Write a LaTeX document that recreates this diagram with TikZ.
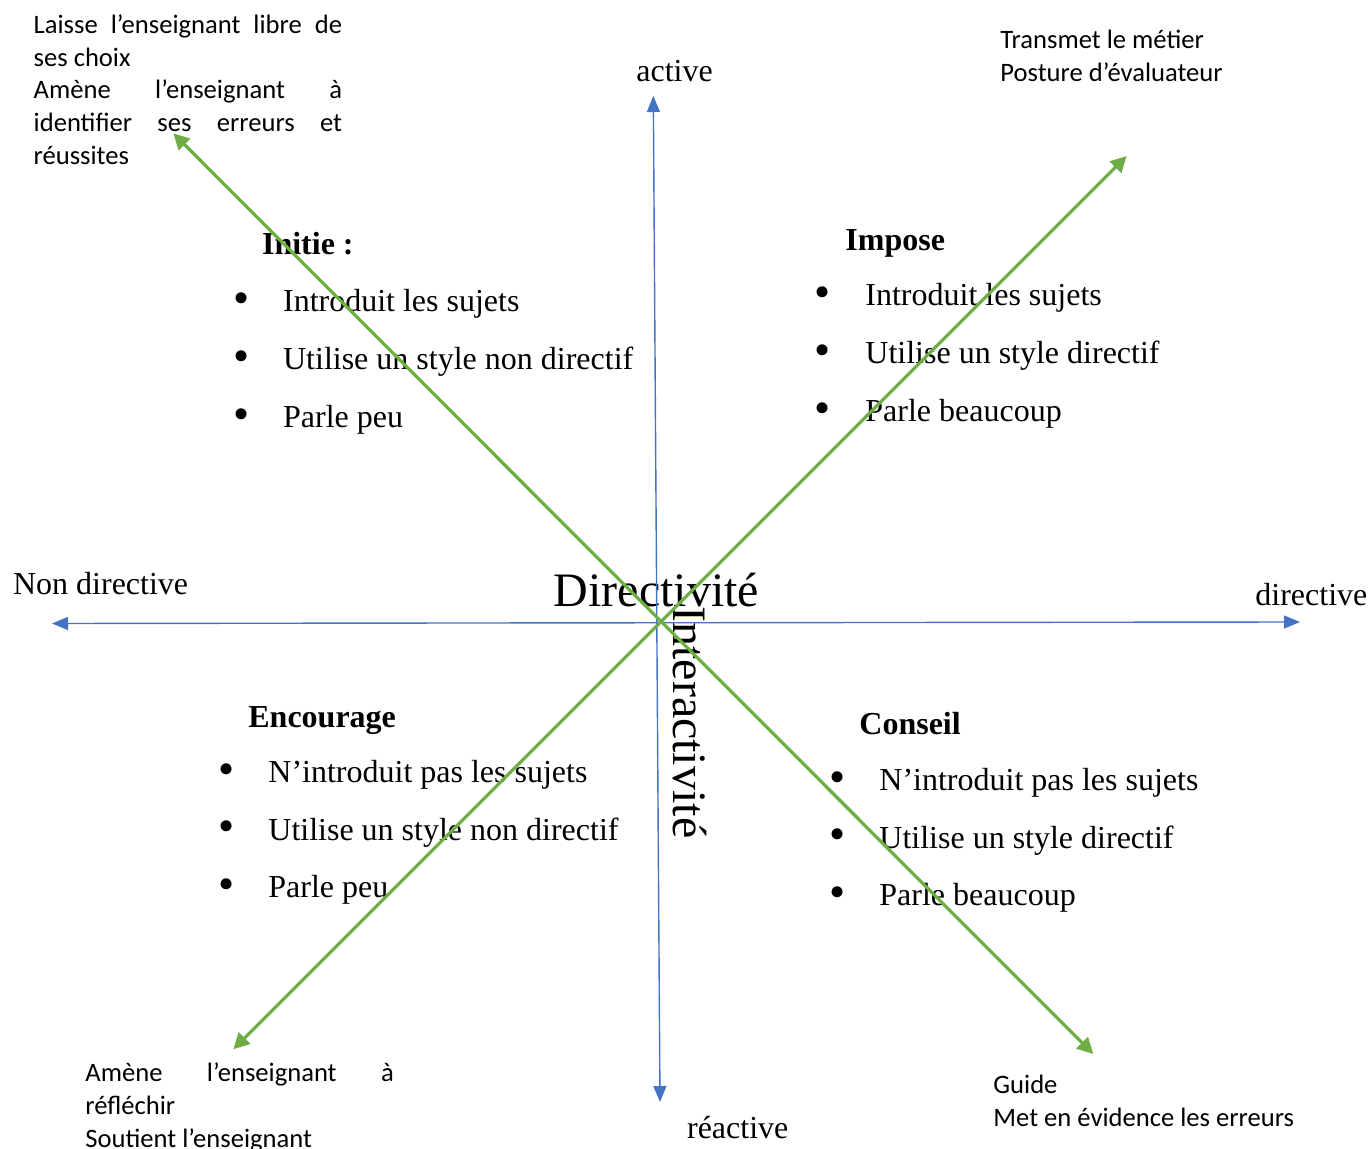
\documentclass[tikz,border=0pt]{standalone}
\usepackage{fontspec}
\setmainfont{Liberation Serif}
\newfontfamily\sansfont{Carlito}
\usetikzlibrary{arrows.meta}
\definecolor{bleuaxe}{HTML}{4472C4}
\definecolor{vertdiag}{HTML}{70AD47}
\tikzset{
  axe/.style={bleuaxe, line width=0.7pt, {Triangle[length=8pt,width=6.5pt]}-{Triangle[length=8pt,width=6.5pt]}},
  diag/.style={vertdiag, line width=1.6pt, {Triangle[length=8pt,width=8pt]}-{Triangle[length=8pt,width=8pt]}},
  pole/.style={inner sep=0pt, anchor=base west, font=\fontsize{16}{19}\selectfont},
  titre/.style={inner sep=0pt, anchor=base west, font=\fontsize{16}{19}\selectfont\bfseries},
  puce/.style={inner sep=0pt, anchor=center, font=\fontsize{23}{27}\selectfont},
  grand/.style={inner sep=0pt, anchor=base west, font=\fontsize{24}{29}\selectfont},
  note/.style={inner sep=0pt, anchor=base west, text width=160pt, font=\sansfont\fontsize{13.3}{16.4}\selectfont,
    execute at begin node={\spaceskip=0pt\xspaceskip=0pt}},
}
\newcommand{\ligne}[1]{\makebox[154.2pt][l]{#1}}
\begin{document}
\begin{tikzpicture}[x=0.5pt, y=-0.5pt, line join=round, line cap=round]
\useasboundingbox (0,0) rectangle (1370,1149);
% extremites des axes
\coordinate (gauche) at (52,623.5);
\coordinate (droite) at (1300,622);
\coordinate (haut) at (653.3,96);
\coordinate (bas) at (660,1102);
\coordinate (no) at (173.3,133.3);
\coordinate (se) at (1093.3,1054);
\coordinate (so) at (233.3,1049.3);
\coordinate (ne) at (1126.7,156);
% poles
\node[pole] (active) at (636,82) {active};
\node[pole] (reactive) at (686.7,1138) {réactive};
\node[pole] (nondir) at (12.7,595) {Non directive};
\node[pole] (dir) at (1255,605) {directive};
\node[grand] (directivite) at (553.3,606.7) {Directivité};
\node[grand, rotate=-90] (interact) at (673,606) {Interactivité};
% quadrants
\node[titre] (initie) at (261.7,255) {Initie :};
\foreach \txt [count=\i] in {Introduit les sujets, Utilise un style non directif, Parle peu}{
  \node[puce] (pi\i) at (241.7,{245.3+58*\i}) {\textbullet};
  \node[pole] (ti\i) at (282.7,{253.7+58*\i}) {\txt};
}
\node[titre] (impose) at (845,250.7) {Impose};
\foreach \txt [count=\i] in {Introduit les sujets, Utilise un style directif, Parle beaucoup}{
  \node[puce] (pm\i) at (822.7,{239.6+58*\i}) {\textbullet};
  \node[pole] (tm\i) at (865,{248+58*\i}) {\txt};
}
\node[titre] (encourage) at (248,727) {Encourage};
\foreach \txt [count=\i] in {N’introduit pas les sujets, Utilise un style non directif, Parle peu}{
  \node[puce] (pe\i) at (227,{716.6+57.5*\i}) {\textbullet};
  \node[pole] (te\i) at (268,{725+57.5*\i}) {\txt};
}
\node[titre] (conseil) at (859,734) {Conseil};
\foreach \txt [count=\i] in {N’introduit pas les sujets, Utilise un style directif, Parle beaucoup}{
  \node[puce] (pc\i) at (838,{724.6+57.5*\i}) {\textbullet};
  \node[pole] (tc\i) at (879,{733+57.5*\i}) {\txt};
}
% postures aux coins
\node[note] (noteno) at (33.3,33.3) {\ligne{Laisse\hfill l’enseignant\hfill libre\hfill de}\\ ses choix\\ \ligne{Amène\hfill l’enseignant\hfill à}\\ \ligne{identifier\hfill ses\hfill erreurs\hfill et}\\ réussites};
\node[note] (notene) at (1000,49) {Transmet le métier\\ Posture d’évaluateur};
\node[note] (noteso) at (85,1081.7) {\ligne{Amène\hfill l’enseignant\hfill à}\\ réfléchir\\ Soutient l’enseignant};
\node[note] (notese) at (993,1093.3) {Guide\\ Met en évidence les erreurs};
% axes
\draw[axe] (gauche) -- (droite);
\draw[axe] (haut) -- (bas);
\draw[diag] (no) -- (se);
\draw[diag] (so) -- (ne);
\end{tikzpicture}
\end{document}
